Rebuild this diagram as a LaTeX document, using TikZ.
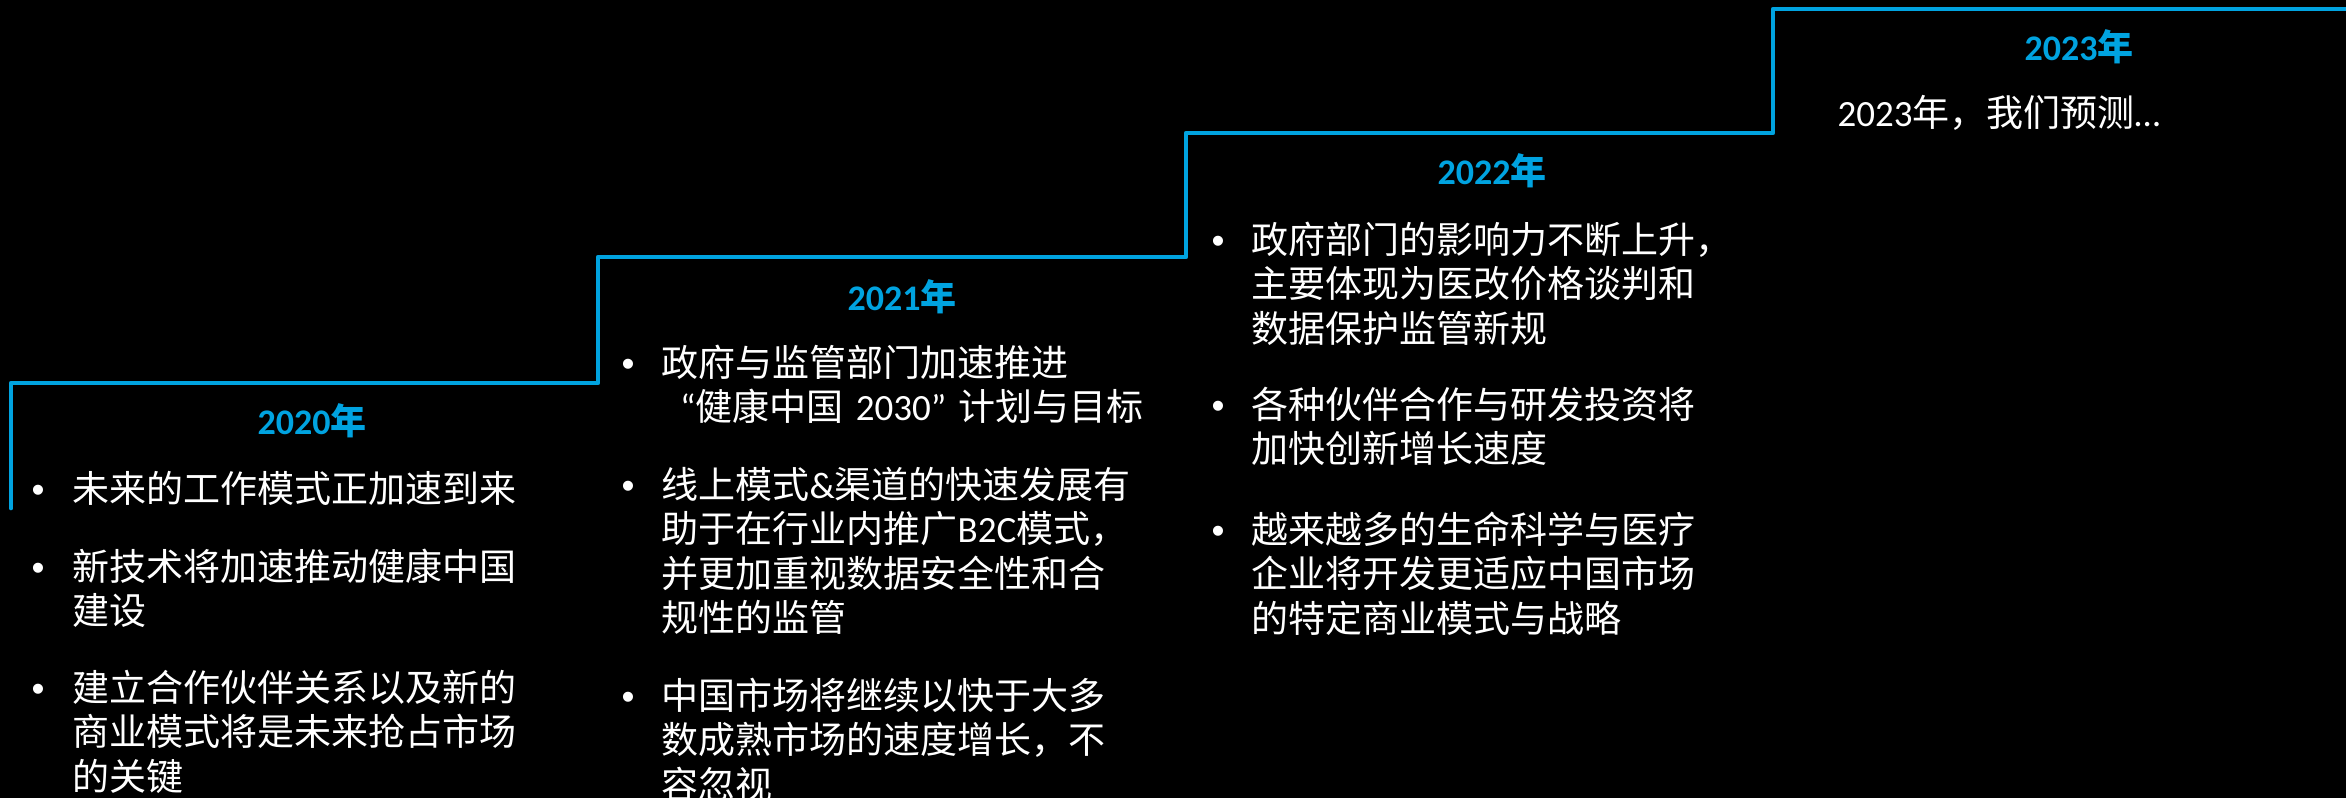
\documentclass[tikz,border=0pt]{standalone}
\usepackage{fontspec}
\newfontfamily\cjk{Noto Sans CJK SC}
\newfontfamily\carlito{Carlito}
\newfontfamily\bulfont{Liberation Sans}
\newcommand{\lat}[1]{{\carlito #1}}
\definecolor{stepblue}{RGB}{0,163,224}
\tikzset{
  stepline/.style={draw=stepblue, line width=1.4pt, line join=round, line cap=round},
  yeartitle/.style={anchor=base, inner sep=0pt, text=stepblue, font=\carlito\bfseries\fontsize{10.8}{13}\selectfont},
  bodytext/.style={anchor=base west, inner sep=0pt, text=white, text width=200pt, align=left, font=\cjk\fontsize{11.1}{13.35}\selectfont},
  bulletmark/.style={anchor=base, inner sep=0pt, text=white, font=\bulfont\fontsize{11.1}{13.35}\selectfont},
}
\begin{document}
\begin{tikzpicture}[x=0.3pt, y=-0.3pt]
\useasboundingbox (0,0) rectangle (2346,798);
\fill[black] (0,0) rectangle (2346,798);

% step line
\coordinate (s0) at (11,508);
\coordinate (s1) at (11,383);
\coordinate (s2) at (598,383);
\coordinate (s3) at (598,257);
\coordinate (s4) at (1186,257);
\coordinate (s5) at (1186,133);
\coordinate (s6) at (1773,133);
\coordinate (s7) at (1773,9);
\coordinate (s8) at (2346,9);
\draw[stepline] (s0) -- (s1) -- (s2) -- (s3) -- (s4) -- (s5) -- (s6) -- (s7) -- (s8);

% titles
\node[yeartitle] (t20) at (312,434) {2020{\cjk\bfseries 年}};
\node[yeartitle] (t21) at (902,310) {2021{\cjk\bfseries 年}};
\node[yeartitle] (t22) at (1492,184) {2022{\cjk\bfseries 年}};
\node[yeartitle] (t23) at (2079,60) {2023{\cjk\bfseries 年}};

% 2020
\node[bulletmark] (b20a) at (38,502) {•};
\node[bodytext] (p20a) at (72,502) {未来的工作模式正加速到来};
\node[bulletmark] (b20b) at (38,580) {•};
\node[bodytext] (p20b) at (72,580) {新技术将加速推动健康中国\\建设};
\node[bulletmark] (b20c) at (38,701) {•};
\node[bodytext] (p20c) at (72,701) {建立合作伙伴关系以及新的\\商业模式将是未来抢占市场\\的关键};

% 2021
\node[bulletmark] (b21a) at (628,376) {•};
\node[bodytext] (p21a) at (661,376) {政府与监管部门加速推进\\\hspace*{5.5pt}\lat{“}健康中国 \lat{2030”} 计划与目标};
\node[bulletmark] (b21b) at (628,498) {•};
\node[bodytext] (p21b) at (661,498) {线上模式\lat{\&}渠道的快速发展有\\助于在行业内推广\lat{B2C}模式，\\并更加重视数据安全性和合\\规性的监管};
\node[bulletmark] (b21c) at (628,709) {•};
\node[bodytext] (p21c) at (661,709) {中国市场将继续以快于大多\\数成熟市场的速度增长，不\\容忽视};

% 2022
\node[bulletmark] (b22a) at (1218,253) {•};
\node[bodytext] (p22a) at (1251,253) {政府部门的影响力不断上升，\\主要体现为医改价格谈判和\\数据保护监管新规};
\node[bulletmark] (b22b) at (1218,418) {•};
\node[bodytext] (p22b) at (1251,418) {各种伙伴合作与研发投资将\\加快创新增长速度};
\node[bulletmark] (b22c) at (1218,543) {•};
\node[bodytext] (p22c) at (1251,543) {越来越多的生命科学与医疗\\企业将开发更适应中国市场\\的特定商业模式与战略};

% 2023
\node[bodytext] (p23) at (1837,126) {\lat{2023}年，我们预测\lat{…}};
\end{tikzpicture}
\end{document}
